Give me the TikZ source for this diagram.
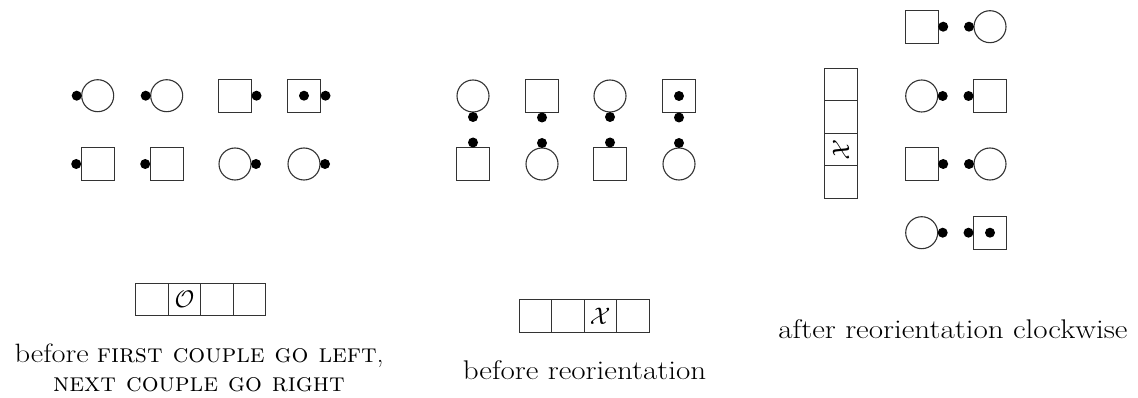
\RequirePackage{fix-cm}
\documentclass[tikz,border=0pt]{standalone}
\usepackage{fontspec}
\usetikzlibrary{positioning}
\newcommand{\wide}[1]{\scalebox{1.15}[1]{#1}}
\begin{document}
\begin{tikzpicture}[x=1pt,y=-1pt,
  shapeline/.style={draw=black!80, line width=1.1pt},
  sq/.style={shapeline, rectangle, minimum size=33pt, inner sep=0pt, outer sep=0pt},
  ci/.style={shapeline, circle, minimum size=32pt, inner sep=0pt, outer sep=0pt},
  dot/.style={circle, fill=black, minimum size=10pt, inner sep=0pt, outer sep=0pt},
  cell/.style={shapeline, rectangle, minimum size=32.5pt, inner sep=0pt, outer sep=0pt, font=\fontsize{24}{30}\selectfont},
  captext/.style={font=\fontsize{27}{30}\selectfont, inner sep=0pt, anchor=base},
  sctext/.style={font=\fontsize{26.5}{30}\selectfont, inner sep=0pt, anchor=base}]
\useasboundingbox (0,0) rectangle (1138,398);
% ---- group 1 ----
\node[ci] (a11) at (97.7,95.7) {}; \node[dot,anchor=east] (d11) at (a11.west) {};
\node[ci] (a12) at (166.7,95.7) {}; \node[dot,anchor=east] (d12) at (a12.west) {};
\node[sq] (a13) at (235,95.7) {}; \node[dot,anchor=west] (d13) at (a13.east) {};
\node[sq] (a14) at (304,95.7) {}; \node[dot,anchor=west] (d14) at (a14.east) {};
\node[dot] (i14) at (a14.center) {};
\node[sq] (a21) at (97.7,164) {}; \node[dot,anchor=east] (d21) at (a21.west) {};
\node[sq] (a22) at (166.7,164) {}; \node[dot,anchor=east] (d22) at (a22.west) {};
\node[ci] (a23) at (235,164) {}; \node[dot,anchor=west] (d23) at (a23.east) {};
\node[ci] (a24) at (304,164) {}; \node[dot,anchor=west] (d24) at (a24.east) {};
% ---- group 2 ----
\node[ci] (b11) at (473,96) {}; \node[dot,anchor=north] (e11) at (b11.south) {};
\node[sq] (b12) at (542,96) {}; \node[dot,anchor=north] (e12) at (b12.south) {};
\node[ci] (b13) at (610,96) {}; \node[dot,anchor=north] (e13) at (b13.south) {};
\node[sq] (b14) at (679,96) {}; \node[dot,anchor=north] (e14) at (b14.south) {};
\node[dot] (j14) at (b14.center) {};
\node[sq] (b21) at (473,164) {}; \node[dot,anchor=south] (e21) at (b21.north) {};
\node[ci] (b22) at (542,164) {}; \node[dot,anchor=south] (e22) at (b22.north) {};
\node[sq] (b23) at (610,164) {}; \node[dot,anchor=south] (e23) at (b23.north) {};
\node[ci] (b24) at (679,164) {}; \node[dot,anchor=south] (e24) at (b24.north) {};
% ---- group 3 ----
\node[sq] (c11) at (921.7,26.7) {}; \node[dot,anchor=west] (f11) at (c11.east) {};
\node[ci] (c12) at (990,26.7) {}; \node[dot,anchor=east] (f12) at (c12.west) {};
\node[ci] (c21) at (921.7,96) {}; \node[dot,anchor=west] (f21) at (c21.east) {};
\node[sq] (c22) at (990,96) {}; \node[dot,anchor=east] (f22) at (c22.west) {};
\node[sq] (c31) at (921.7,164) {}; \node[dot,anchor=west] (f31) at (c31.east) {};
\node[ci] (c32) at (990,164) {}; \node[dot,anchor=east] (f32) at (c32.west) {};
\node[ci] (c41) at (921.7,232.7) {}; \node[dot,anchor=west] (f41) at (c41.east) {};
\node[sq] (c42) at (990,232.7) {}; \node[dot,anchor=east] (f42) at (c42.west) {};
\node[dot] (k42) at (c42.center) {};
% ---- strips ----
\node[cell] (p1) at (152,299.5) {};
\node[cell,right=0pt of p1] (p2) {$\mathcal{O}$};
\node[cell,right=0pt of p2] (p3) {};
\node[cell,right=0pt of p3] (p4) {};
\node[cell] (q1) at (535.3,316) {};
\node[cell,right=0pt of q1] (q2) {};
\node[cell,right=0pt of q2] (q3) {$\mathcal{X}$};
\node[cell,right=0pt of q3] (q4) {};
\node[cell] (r1) at (841,84.6) {};
\node[cell,below=0pt of r1] (r2) {};
\node[cell,below=0pt of r2] (r3) {\rotatebox{-90}{$\mathcal{X}$}};
\node[cell,below=0pt of r3] (r4) {};
% ---- captions ----
\node[sctext] (t1a) at (199,362) {\wide{before} \textsc{first couple go left},};
\node[sctext] (t1b) at (199,391) {\textsc{next couple go right}};
\node[captext] (t2) at (584.5,379) {\wide{before reorientation}};
\node[captext] (t3) at (953,338) {\wide{after reorientation clockwise}};
\end{tikzpicture}
\end{document}
